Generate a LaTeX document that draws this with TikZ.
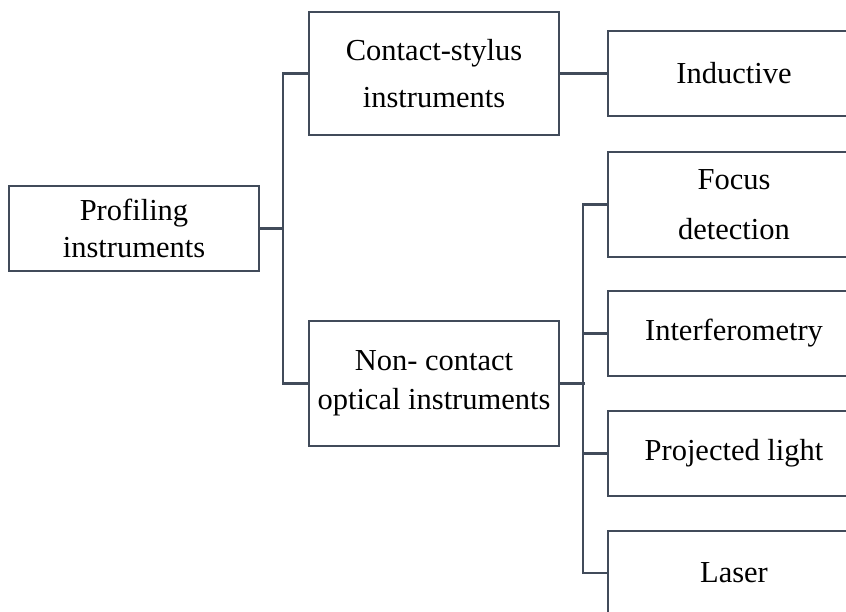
\documentclass[tikz,border=0pt]{standalone}
\usepackage{fontspec}
\setmainfont{Liberation Serif}
\definecolor{edge}{HTML}{414B5A}
\begin{document}
\begin{tikzpicture}[x=1pt,y=-1pt,
  box/.style={draw=edge, line width=2.2pt, fill=white, inner sep=0pt,
    minimum width=250pt, align=center, text=black},
  leaf/.style={box, minimum width=252pt},
  conn/.style={draw=edge, line width=2.2pt},
  txt/.style={font=\fontsize{30.5}{#1}\selectfont}]
\useasboundingbox (0,0) rectangle (846,612);
\clip (0,0) rectangle (846,612);

% root and first level
\node[box, minimum height=85pt, txt=37] (prof) at (134,228.5) {Profiling\\instruments};
\node[box, minimum height=123pt, txt=47] (contact) at (434,73.5) {Contact-stylus\\instruments};
\node[box, minimum height=125pt, txt=39] (noncontact) at (434,383.5) {Non- contact\\optical instruments};

% second level
\node[leaf, minimum height=85pt, txt=37] (induct) at (734,73.5) {Inductive};
\node[leaf, minimum height=105pt, txt=50] (focus) at (734,204.5) {Focus\\detection};
\node[leaf, minimum height=85pt, txt=37] (interf) at (734,333.5) {Interferometry};
\node[leaf, minimum height=85pt, txt=37] (proj) at (734,453.5) {Projected light};
\node[leaf, minimum height=84pt, txt=37] (laser) at (734,573) {Laser};

% connectors from the root
\coordinate (j1) at (284,228.5);
\draw[conn] (prof.east) -- (j1);
\draw[conn] (contact.west) -- ++(-25,0) |- (noncontact.west);

% contact-stylus branch
\draw[conn] (contact.east) -- (induct.west);

% optical branch
\draw[conn] (noncontact.east) -- ++(25,0);
\draw[conn] (focus.west) -- ++(-24,0) |- (laser.west);
\draw[conn] (interf.west) -- ++(-24,0);
\draw[conn] (proj.west) -- ++(-24,0);
\end{tikzpicture}
\end{document}
